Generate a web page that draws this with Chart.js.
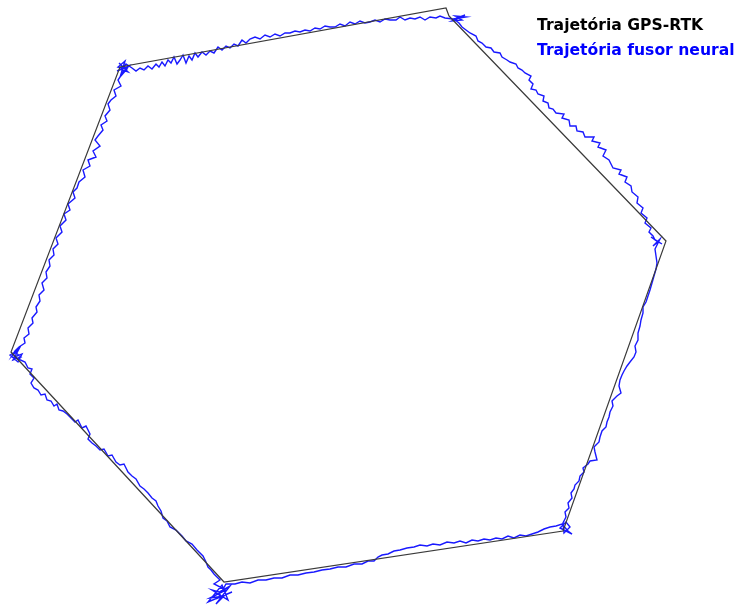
<!DOCTYPE html>
<html>
<head>
<meta charset="utf-8">
<script src="https://cdn.jsdelivr.net/npm/chart.js@4.4.1/dist/chart.umd.min.js"></script>
<style>
  html, body { margin: 0; padding: 0; background: #fff; }
  #wrap { width: 739px; height: 606px; position: relative; }
</style>
</head>
<body>
<div id="wrap"><canvas id="traj"></canvas></div>
<script>
// GPS-RTK reference path (plot units, y grows downward)
const gpsX = [449, 446, 120, 11, 224, 563, 666, 449];
const gpsY = [16, 8, 67, 352, 582, 531, 241, 16];

// neural fusion estimate, one line per stretch of the loop
const fusorX = [
  // top corner
  458, 465, 452, 462, 455, 466, 453,
  // top edge
  445, 440, 436, 430, 425, 420, 415, 410, 405, 400,
  396, 390, 385, 380, 375, 370, 365, 360, 355, 350,
  345, 340, 335, 330, 325, 320, 315, 310, 305, 300,
  295, 290, 285, 280, 275, 270, 265, 260, 255, 250,
  246, 242, 238, 234, 230, 226, 222, 218, 214, 210,
  206, 202, 198, 195, 192, 189, 186, 183, 180, 177,
  174, 171, 168, 165, 162, 159, 156, 152, 148, 144,
  140, 136, 132,
  // top-left corner
  126, 122, 128, 119, 124, 117, 129, 121, 125, 118, 127, 120,
  // upper-left edge
  118, 121, 114, 116, 111, 108, 110, 105, 107, 101,
  103, 98, 95, 100, 93, 96, 88, 90, 83, 85,
  79, 77, 73, 75, 68, 70, 64, 66, 60, 62,
  56, 58, 53, 54, 49, 50, 46, 47, 42, 44,
  39, 40, 36, 37, 32, 33, 28, 29, 24, 25,
  19, 15,
  // left corner
  12, 19, 13, 21, 15, 10, 18, 22, 14,
  // lower-left edge
  25, 28, 32, 30, 34, 31, 34, 38, 41, 45,
  47, 51, 54, 57, 59, 63, 67, 71, 75, 78,
  82, 86, 90, 88, 92, 96, 100, 104, 108, 112,
  116, 120, 124, 128, 132, 136, 140, 144, 148, 152,
  156, 158, 161, 163, 167, 170, 176, 182, 186, 192,
  197, 203, 206, 208, 211, 214, 217, 220,
  // bottom-left corner
  214, 226, 210, 224, 216, 230, 219, 212, 228, 222, 208, 232, 218, 226,
  // bottom edge
  235, 242, 250, 258, 266, 274, 282, 290, 298, 306,
  314, 322, 330, 338, 346, 354, 362, 368, 374, 378,
  382, 388, 394, 400, 407, 414, 420, 427, 433, 440,
  447, 454, 460, 466, 472, 478, 484, 490, 496, 502,
  508, 514, 520, 526, 532, 538, 544, 550, 556, 562,
  // bottom-right corner
  568, 572, 560, 566, 570, 564,
  // lower-right edge
  563, 566, 565, 569, 568, 572, 571, 574, 575, 579,
  580, 584, 583, 588, 590, 597, 595, 594, 599, 600,
  602, 606, 607, 609, 610, 613, 612, 617, 621, 619,
  620, 622, 624, 627, 630, 634, 636, 635, 638, 638,
  640, 641, 643, 643, 646, 648, 650, 652, 654, 656,
  657, 656, 655,
  // right corner
  660, 653, 658, 651, 662, 655,
  // upper-right edge
  653, 649, 651, 645, 647, 641, 643, 637, 638, 632,
  631, 625, 627, 619, 621, 613, 611, 609, 603, 606,
  598, 600, 592, 594, 585, 583, 577, 576, 570, 569,
  562, 564, 556, 553, 549, 548, 543, 544, 538, 536,
  531, 533, 529, 531, 525, 522, 518, 516, 510, 507,
  502, 500, 494, 491, 486, 482, 478, 476, 470, 466,
  462, 459, 455
];
const fusorY = [
  // top corner
  18, 15, 21, 20, 16, 17, 19,
  // top edge
  18, 16, 18, 17, 20, 17, 19, 18, 20, 17,
  20, 20, 19, 22, 20, 22, 23, 21, 24, 22,
  26, 24, 27, 27, 26, 29, 28, 31, 30, 32,
  31, 33, 33, 36, 34, 37, 35, 39, 37, 39,
  43, 40, 46, 44, 48, 46, 50, 47, 53, 51,
  55, 52, 57, 53, 60, 56, 63, 55, 60, 64,
  57, 63, 60, 66, 62, 67, 64, 69, 66, 70,
  68, 71, 68,
  // top-left corner
  64, 70, 72, 63, 68, 71, 66, 74, 61, 67, 69, 77,
  // upper-left edge
  80, 86, 90, 96, 100, 104, 110, 116, 121, 125,
  130, 136, 140, 146, 151, 157, 160, 166, 170, 177,
  182, 188, 192, 198, 204, 210, 214, 220, 226, 232,
  238, 244, 249, 255, 260, 266, 272, 278, 283, 290,
  295, 301, 307, 312, 318, 323, 328, 334, 338, 343,
  347, 351,
  // left corner
  356, 349, 360, 357, 352, 355, 362, 354, 357,
  // lower-left edge
  362, 368, 369, 374, 378, 383, 388, 390, 395, 394,
  400, 401, 406, 404, 410, 411, 414, 418, 422, 420,
  428, 426, 434, 439, 443, 446, 450, 449, 456, 455,
  462, 465, 464, 472, 476, 479, 486, 489, 493, 498,
  501, 506, 511, 518, 521, 527, 530, 536, 541, 544,
  550, 556, 562, 567, 570, 574, 577, 580,
  // bottom-left corner
  584, 590, 598, 596, 604, 586, 592, 590, 600, 585, 602, 592, 598, 584,
  // bottom edge
  584, 582, 583, 580, 580, 578, 578, 575, 575, 573,
  572, 570, 569, 567, 567, 564, 564, 561, 561, 557,
  555, 554, 551, 550, 548, 547, 545, 546, 544, 545,
  542, 543, 541, 543, 540, 541, 539, 540, 538, 539,
  536, 538, 535, 536, 534, 532, 529, 527, 526, 524,
  // bottom-right corner
  531, 534, 528, 522, 527, 533,
  // lower-right edge
  523, 517, 512, 508, 503, 498, 493, 489, 485, 481,
  476, 472, 468, 464, 461, 460, 452, 447, 442, 437,
  431, 427, 422, 417, 412, 406, 401, 396, 393, 386,
  380, 375, 371, 366, 362, 357, 352, 346, 340, 333,
  326, 320, 313, 307, 302, 296, 290, 283, 276, 269,
  263, 256, 249,
  // right corner
  239, 246, 242, 237, 244, 240,
  // upper-right edge
  236, 232, 228, 223, 218, 213, 208, 203, 197, 192,
  186, 182, 177, 174, 170, 168, 164, 160, 156, 150,
  147, 143, 141, 137, 137, 132, 131, 126, 126, 120,
  118, 114, 113, 109, 108, 103, 101, 96, 94, 90,
  89, 84, 80, 76, 73, 70, 68, 64, 62, 60,
  57, 53, 52, 48, 47, 43, 41, 36, 33, 30,
  27, 23, 20
];

if (fusorX.length !== fusorY.length) {
  throw new Error('fusor arrays differ: ' + fusorX.length + ' vs ' + fusorY.length);
}

const toPoints = (xs, ys) => xs.map((x, i) => ({ x: x, y: ys[i] }));

// legend drawn as coloured text in the top-right corner
const textLegend = {
  id: 'textLegend',
  afterDraw(chart) {
    const ctx = chart.ctx;
    ctx.save();
    ctx.font = 'bold 15.6px "DejaVu Sans", Tahoma, sans-serif';
    ctx.textBaseline = 'alphabetic';
    ctx.textAlign = 'left';
    ctx.fillStyle = '#000000';
    ctx.fillText('Trajetória GPS-RTK', 537, 30);
    ctx.fillStyle = '#0000ff';
    ctx.fillText('Trajetória fusor neural', 537, 55);
    ctx.restore();
  }
};

new Chart(document.getElementById('traj'), {
  type: 'scatter',
  data: {
    datasets: [
      {
        label: 'Trajetória GPS-RTK',
        data: toPoints(gpsX, gpsY),
        showLine: true,
        borderColor: '#3a3a3a',
        borderWidth: 1.2,
        pointRadius: 0,
        tension: 0
      },
      {
        label: 'Trajetória fusor neural',
        data: toPoints(fusorX, fusorY),
        showLine: true,
        borderColor: 'rgba(0, 0, 255, 0.9)',
        borderWidth: 1.4,
        pointRadius: 0,
        tension: 0
      }
    ]
  },
  options: {
    responsive: true,
    maintainAspectRatio: false,
    animation: false,
    layout: { padding: 0 },
    scales: {
      x: { type: 'linear', min: 0, max: 739, display: false },
      y: { type: 'linear', min: 0, max: 606, reverse: true, display: false }
    },
    plugins: {
      legend: { display: false },
      tooltip: { enabled: false }
    }
  },
  plugins: [textLegend]
});
</script>
</body>
</html>
